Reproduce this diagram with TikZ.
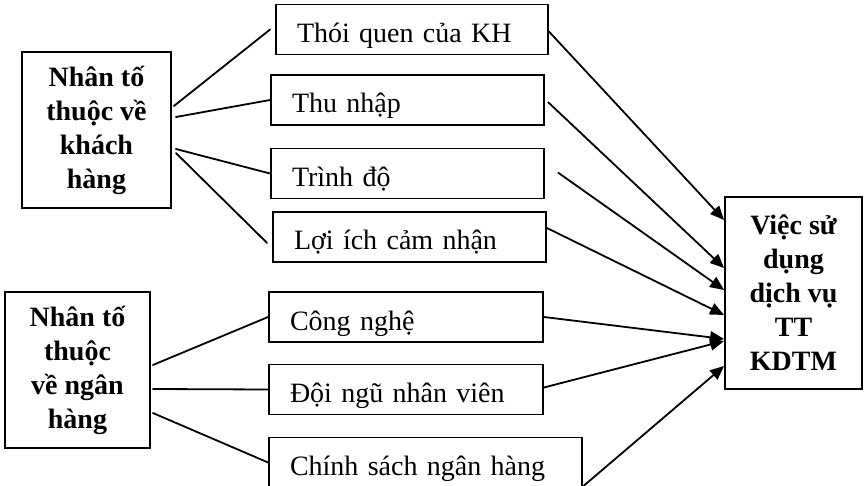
\documentclass[tikz,border=0pt]{standalone}
\usepackage{fontspec}
\setmainfont{Liberation Serif}
\usetikzlibrary{arrows.meta}

\begin{document}
\begin{tikzpicture}[
    x=1pt, y=-1pt,
    font=\fontsize{28}{34}\selectfont,
    box/.style={draw, line width=1.8pt},
    group/.style={box, font=\fontsize{28}{34}\selectfont\bfseries, align=center, inner sep=0pt},
    item/.style={box, align=left, inner xsep=21pt, inner ysep=0pt, minimum height=50pt, text height=26pt, text depth=0pt},
    link/.style={line width=1.8pt, line cap=round},
    feed/.style={-{Triangle[length=14pt,width=12pt]}, line width=1.8pt}
]
  \useasboundingbox (0,0) rectangle (864,486);

  \node[group, minimum width=149pt, minimum height=156pt] (group-kh) at (96.5,130)
    {Nhân tố\\thuộc về\\khách\\hàng};
  \node[group, minimum width=145pt, minimum height=156pt] (group-nh) at (77.5,370)
    {Nhân tố\\thuộc\\về ngân\\hàng};

  \node[item, text width=230pt] (item-1) at (412,29.5) {Thói quen của KH};
  \node[item, text width=231pt] (item-2) at (407.5,100) {Thu nhập};
  \node[item, text width=231pt] (item-3) at (407.5,173.5) {Trình độ};
  \node[item, text width=231pt] (item-4) at (409.5,237) {Lợi ích cảm nhận};
  \node[item, text width=232pt] (item-5) at (406,317) {Công nghệ};
  \node[item, text width=232pt] (item-6) at (406,389.5) {Đội ngũ nhân viên};
  \node[item, text width=271pt] (item-7) at (425.5,462.5) {Chính sách ngân hàng};

  \node[group, minimum width=137pt, minimum height=192pt] (target) at (793.5,293)
    {Việc sử\\dụng\\dịch vụ\\TT\\KDTM};

  \draw[link] ([xshift=2pt,yshift=24pt]group-kh.east) -- ([xshift=-5pt]item-1.west);
  \draw[link] ([xshift=4pt,yshift=13pt]group-kh.east) -- (item-2.west);
  \draw[link] ([xshift=4pt,yshift=-19pt]group-kh.east) -- (item-3.west);
  \draw[link] ([xshift=4pt,yshift=-23pt]group-kh.east) -- ([xshift=-5pt,yshift=-6pt]item-4.west);
  \draw[link] ([xshift=2pt,yshift=5pt]group-nh.east) -- (item-5.west);
  \draw[link] ([xshift=2pt,yshift=-19pt]group-nh.east) -- (item-6.west);
  \draw[link] ([xshift=2pt,yshift=-43pt]group-nh.east) -- (item-7.west);

  \foreach \i/\sx/\sy/\ty in {1/0/-2/73, 2/3/-2/25, 3/13/1/3, 4/0/9/-22, 5/0/0/-46, 6/0/2/-48, 7/0/-24/-73} {
    \draw[feed] ([xshift=\sx pt,yshift=\sy pt]item-\i.east) -- ([yshift=\ty pt]target.west);
  }
\end{tikzpicture}
\end{document}
